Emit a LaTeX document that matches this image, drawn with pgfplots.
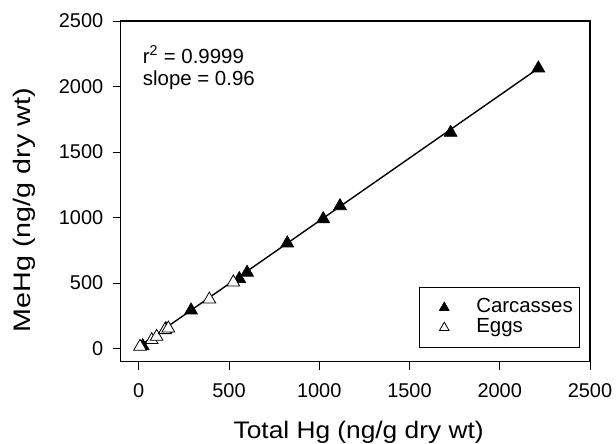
\documentclass[border=0pt]{standalone}
\usepackage{pgfplots}
\pgfplotsset{compat=1.18}
\usepackage{fontspec}
\setmainfont{Liberation Sans}
\begin{document}
\begin{tikzpicture}
\useasboundingbox (-120.7bp,-82.3bp) rectangle (495.3bp,361.7bp);
\begin{axis}[
  at={(0,0)}, anchor=south west,
  scale only axis, width=469.3bp, height=340.7bp,
  xmin=-100, xmax=2500, ymin=-100, ymax=2500,
  xtick={0,500,1000,1500,2000,2500}, ytick={0,500,1000,1500,2000,2500},
  tick align=outside, xtick pos=lower, ytick pos=lower,
  major tick length=8bp,
  tick style={black, line width=0.9bp},
  axis line style={line width=1.1bp},
  /pgf/number format/assume math mode=true,
  /pgf/number format/1000 sep={},
  tick label style={font=\fontsize{20}{24}\selectfont},
  xticklabel style={yshift=-10bp},
  yticklabel style={xshift=-6bp},
  xlabel={\scalebox{1.1}[1]{Total Hg (ng/g dry wt)}},
  xlabel style={at={(axis description cs:0.507,-0.174)}, anchor=north, inner sep=0pt, font=\fontsize{24}{28}\selectfont},
  ylabel={\scalebox{1.2}[1]{MeHg (ng/g dry wt)}},
  ylabel style={at={(axis description cs:-0.2295,0.445)}, anchor=north, inner sep=0pt, font=\fontsize{24}{28}\selectfont},
  legend style={at={(0.979,0.040)}, anchor=south east, draw=black, line width=0.8bp,
    font=\fontsize{20.5}{20}\selectfont, row sep=0pt, column sep=10bp,
    inner xsep=7bp, inner ysep=10bp,
    nodes={inner sep=0pt, text height=15bp, text depth=5bp}},
  legend cell align=left,
  legend image code/.code={
    \path[draw=none, fill=none] (0bp,-5bp) rectangle (40bp,5bp);
    \draw[#1, mark size=5.5bp, line width=0.8bp] plot coordinates {(18bp,0bp)};
  },
]
\addplot[black, line width=1.4bp, forget plot] coordinates {(15,29) (2214,2139)};
\addplot[only marks, mark=triangle*, mark size=7.3bp, draw=black, fill=black, line width=0.8bp] coordinates {
  (22,20) (150,150) (290,292) (557,532) (600,580) (823,804) (1022,989) (1115,1088) (1728,1648) (2214,2139)
};
\addlegendentry{Carcasses\hspace{10bp}}
\addplot[only marks, mark=triangle*, mark size=7.3bp, draw=black, fill=white, line width=0.8bp] coordinates {
  (7,15) (72,66) (99,91) (145,142) (164,155) (391,376) (524,506)
};
\addlegendentry{Eggs}
\node[anchor=base west, inner sep=0pt, font=\fontsize{20.5}{24}\selectfont] at (axis cs:22,2177) {r\textsuperscript{2} = 0.9999};
\node[anchor=base west, inner sep=0pt, font=\fontsize{20.5}{24}\selectfont] at (axis cs:22,2004) {slope = 0.96};
\end{axis}
\end{tikzpicture}
\end{document}
